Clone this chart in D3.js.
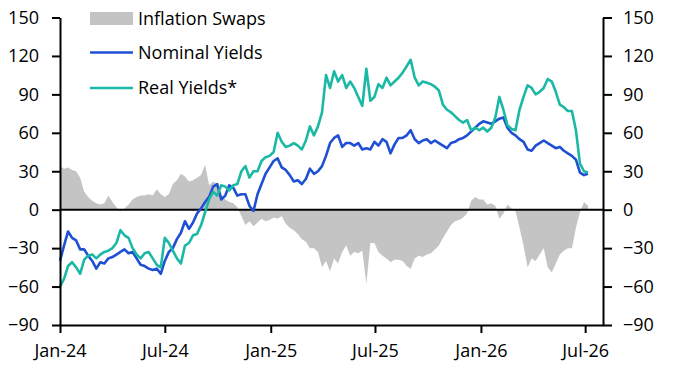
<!DOCTYPE html>
<html>
<head>
<meta charset="utf-8">
<script src="https://cdn.jsdelivr.net/npm/d3@7"></script>
<style>
  html, body { margin: 0; padding: 0; background: #fff; }
  svg { display: block; }
  text { font-family: "Open Sans", "Noto Sans", sans-serif; fill: #000; }
</style>
</head>
<body>
<svg id="chart" width="676" height="378"></svg>
<script>
const dates = [
"2024-01-01","2024-01-08","2024-01-15","2024-01-22","2024-01-29","2024-02-05","2024-02-12","2024-02-19","2024-02-26","2024-03-04",
"2024-03-11","2024-03-18","2024-03-25","2024-04-01","2024-04-08","2024-04-15","2024-04-22","2024-04-29","2024-05-06","2024-05-13",
"2024-05-20","2024-05-27","2024-06-03","2024-06-10","2024-06-17","2024-06-24","2024-07-01","2024-07-08","2024-07-15","2024-07-22",
"2024-07-29","2024-08-05","2024-08-12","2024-08-19","2024-08-26","2024-09-02","2024-09-09","2024-09-16","2024-09-23","2024-09-30",
"2024-10-07","2024-10-14","2024-10-21","2024-10-28","2024-11-04","2024-11-11","2024-11-18","2024-11-25","2024-12-02","2024-12-09",
"2024-12-16","2024-12-23","2024-12-30","2025-01-06","2025-01-13","2025-01-20","2025-01-27","2025-02-03","2025-02-10","2025-02-17",
"2025-02-24","2025-03-03","2025-03-10","2025-03-17","2025-03-24","2025-03-31","2025-04-07","2025-04-14","2025-04-21","2025-04-28",
"2025-05-05","2025-05-12","2025-05-19","2025-05-26","2025-06-02","2025-06-09","2025-06-16","2025-06-23","2025-06-30","2025-07-07",
"2025-07-14","2025-07-21","2025-07-28","2025-08-04","2025-08-11","2025-08-18","2025-08-25","2025-09-01","2025-09-08","2025-09-15",
"2025-09-22","2025-09-29","2025-10-06","2025-10-13","2025-10-20","2025-10-27","2025-11-03","2025-11-10","2025-11-17","2025-11-24",
"2025-12-01","2025-12-08","2025-12-15","2025-12-22","2025-12-29","2026-01-05","2026-01-12","2026-01-19","2026-01-26","2026-02-02",
"2026-02-09","2026-02-16","2026-02-23","2026-03-02","2026-03-09","2026-03-16","2026-03-23","2026-03-30","2026-04-06","2026-04-13",
"2026-04-20","2026-04-27","2026-05-04","2026-05-11","2026-05-18","2026-05-25","2026-06-01","2026-06-08","2026-06-15","2026-06-22",
"2026-06-29","2026-07-06"
];

const nominalYields = [
-40,-28,-17,-22,-24,-31,-31,-36,-40,-46,
-41,-42,-38,-37,-35,-33,-31,-34,-33,-38,
-43,-44,-46,-47,-46,-50,-40,-33,-30,-23,
-18,-9,-15,-10,-3,1,6,10,18,20,
8,11,19,17,11,12,12,3,-1,12,
20,28,33,38,40,33,31,27,22,23,
20,24,32,28,30,34,42,52,56,58,
49,52,52,50,52,47,48,47,53,50,
55,53,44,51,56,56,58,62,55,52,
54,55,52,54,52,50,48,52,53,55,
56,58,61,64,67,69,68,67,69,71,
72,64,60,58,55,53,47,46,50,52,
54,52,50,48,49,46,44,42,39,29,
27,28
];

const realYields = [
-60,-54,-44,-41,-45,-50,-39,-36,-35,-38,
-35,-33,-32,-30,-26,-16,-20,-22,-30,-35,
-38,-34,-33,-38,-43,-45,-22,-26,-32,-38,
-42,-28,-26,-20,-19,-12,-2,8,14,11,
19,18,15,19,20,30,34,25,30,30,
38,41,42,45,60,53,49,50,52,50,
47,54,65,58,65,76,105,95,108,100,
105,95,100,95,88,81,110,85,88,98,
95,103,97,100,103,107,112,117,103,97,
100,99,98,96,93,82,78,76,73,70,
68,70,62,64,62,64,61,64,72,88,
78,66,63,62,78,88,97,95,90,92,
95,102,100,92,82,80,77,77,62,36,
30,29
];

const inflationSwaps = [
34,32,33,31,30,25,14,10,7,5,
4,5,11,6,2,-1,1,4,8,10,
11,11,12,11,16,12,10,12,20,23,
28,26,22,23,25,27,35,19,22,20,
12,8,6,5,2,-5,-12,-9,-13,-10,
-7,-9,-8,-6,-7,-5,-11,-14,-16,-19,
-23,-25,-30,-30,-33,-45,-40,-48,-38,-42,
-33,-28,-36,-33,-34,-32,-58,-26,-26,-33,
-36,-38,-41,-39,-39,-40,-44,-46,-38,-36,
-37,-35,-34,-31,-28,-22,-17,-12,-9,-8,
-6,-3,7,10,8,8,4,5,3,-7,
-3,4,1,-1,-14,-28,-45,-38,-40,-35,
-30,-45,-49,-42,-35,-32,-30,-30,-14,-2,
6,3
];

const yTickValues = [-90, -60, -30, 0, 30, 60, 90, 120, 150];
const xTickDates = ["2024-01-01","2024-07-01","2025-01-01","2025-07-01","2026-01-01","2026-07-01"];
const xTickLabels = ["Jan-24","Jul-24","Jan-25","Jul-25","Jan-26","Jul-26"];
const legendLabels = ["Inflation Swaps", "Nominal Yields", "Real Yields*"];

// ---- Styles ----
const colors = { swaps: "#c4c4c4", nominal: "#1f4fd3", real: "#1bb9a5" };
const parse = d3.timeParse("%Y-%m-%d");

const svg = d3.select("#chart");
const M = { left: 60, right: 603, top: 17.5, bottom: 325 };

const x = d3.scaleTime()
  .domain([parse("2024-01-01"), parse("2026-08-01")])
  .range([M.left, M.right]);
const y = d3.scaleLinear().domain([-90, 150]).range([M.bottom, M.top]);

const rows = dates.map((d, i) => ({
  date: parse(d),
  nominal: nominalYields[i],
  real: realYields[i],
  swaps: inflationSwaps[i]
}));

// Inflation swaps area
svg.append("path")
  .datum(rows)
  .attr("fill", colors.swaps)
  .attr("d", d3.area()
    .x(d => x(d.date))
    .y0(y(0))
    .y1(d => y(d.swaps)));

// Zero line
svg.append("line")
  .attr("x1", M.left).attr("x2", M.right)
  .attr("y1", y(0)).attr("y2", y(0))
  .attr("stroke", "#000").attr("stroke-width", 2);

// Lines
const lineGen = key => d3.line().x(d => x(d.date)).y(d => y(d[key]));
svg.append("path").datum(rows)
  .attr("fill", "none").attr("stroke", colors.nominal)
  .attr("stroke-width", 2.6).attr("stroke-linejoin", "round")
  .attr("d", lineGen("nominal"));
svg.append("path").datum(rows)
  .attr("fill", "none").attr("stroke", colors.real)
  .attr("stroke-width", 2.6).attr("stroke-linejoin", "round")
  .attr("d", lineGen("real"));

// Axes
function styleAxis(g) {
  g.selectAll(".domain").attr("stroke", "#000").attr("stroke-width", 2);
  g.selectAll(".tick line").attr("stroke", "#000").attr("stroke-width", 2);
  g.selectAll(".tick text")
    .attr("font-family", '"Open Sans", "Noto Sans", sans-serif')
    .attr("font-size", 18).attr("fill", "#000");
}

svg.append("g")
  .attr("transform", `translate(${M.left},0)`)
  .call(d3.axisLeft(y).tickValues(yTickValues).tickSize(8).tickSizeOuter(0).tickPadding(13))
  .call(styleAxis);

svg.append("g")
  .attr("transform", `translate(${M.right},0)`)
  .call(d3.axisRight(y).tickValues(yTickValues).tickSize(9).tickSizeOuter(0).tickPadding(11))
  .call(styleAxis);

svg.append("g")
  .attr("transform", `translate(0,${M.bottom})`)
  .call(d3.axisBottom(x)
    .tickValues(xTickDates.map(parse))
    .tickFormat((d, i) => xTickLabels[i])
    .tickSize(8).tickSizeOuter(0).tickPadding(11))
  .call(styleAxis);

// Legend
const legend = svg.append("g");
const legendY = [18.5, 52.5, 88];
legend.append("rect")
  .attr("x", 90).attr("y", 12).attr("width", 43).attr("height", 13)
  .attr("fill", colors.swaps);
legend.append("line")
  .attr("x1", 90).attr("x2", 133).attr("y1", legendY[1]).attr("y2", legendY[1])
  .attr("stroke", colors.nominal).attr("stroke-width", 2.6);
legend.append("line")
  .attr("x1", 90).attr("x2", 133).attr("y1", legendY[2]).attr("y2", legendY[2])
  .attr("stroke", colors.real).attr("stroke-width", 2.6);
legend.selectAll("text.lg")
  .data(legendLabels)
  .join("text")
  .attr("class", "lg")
  .attr("x", 138)
  .attr("y", (d, i) => legendY[i])
  .attr("dy", "0.35em")
  .attr("font-size", 18)
  .text(d => d);
</script>
</body>
</html>
